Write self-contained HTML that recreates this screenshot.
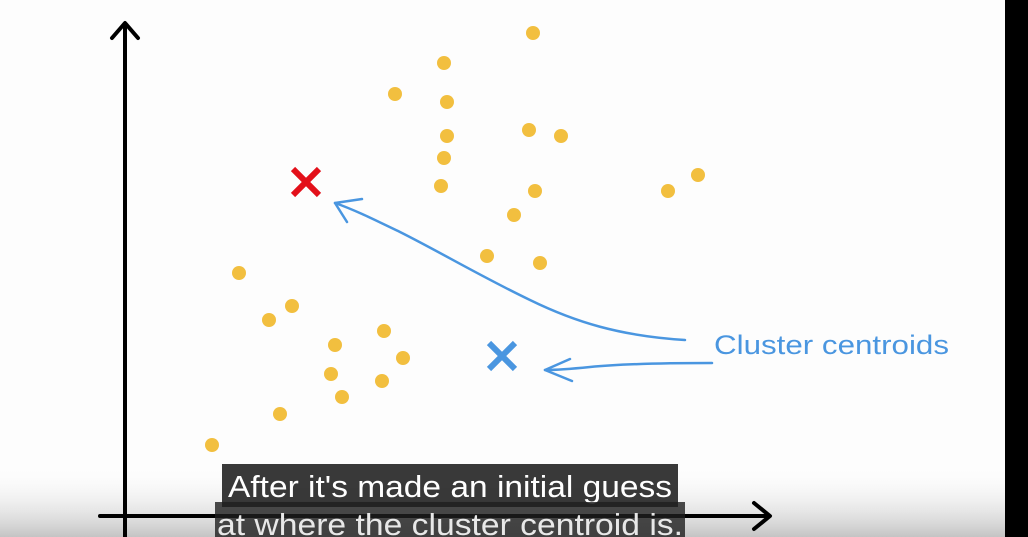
<!DOCTYPE html>
<html><head><meta charset="utf-8"><style>
html,body{margin:0;padding:0;background:#fff;}
svg{display:block;}
</style></head><body>
<svg id="chart" width="1028" height="537" viewBox="0 0 1028 537" xmlns="http://www.w3.org/2000/svg">
<defs>
<linearGradient id="fade" x1="0" y1="0" x2="0" y2="1">
<stop offset="0" stop-color="#ffffff" stop-opacity="0"/>
<stop offset="1" stop-color="#c4c4c4" stop-opacity="1"/>
</linearGradient>
</defs>
<rect width="1028" height="537" fill="#fdfdfd"/>
<rect x="0" y="465" width="1028" height="72" fill="url(#fade)"/>
<g id="axes" stroke="#000" stroke-width="4" fill="none" stroke-linecap="round" stroke-linejoin="round">
<line x1="125" y1="24" x2="125" y2="540"/>
<polyline points="112,38 125,23 138,38"/>
<line x1="100" y1="516" x2="768" y2="516"/>
<polyline points="754,503 770,516 754,529"/>
</g>
<g id="points"></g>
<g id="centroids"></g>
<g stroke="#4a96e0" stroke-width="2.5" fill="none" stroke-linecap="round" stroke-linejoin="round">
<path d="M685,340 C620,336 575,322 530,300 C480,276 440,252 400,232 C375,220 355,210 335,203"/>
<polyline points="362,199 335,203 347,222"/>
<path d="M712,363 C660,363 620,364 590,367 C570,369 555,370 545,370"/>
<polyline points="570,359 545,370 572,381"/>
</g>
<text x="714" y="354" textLength="235" lengthAdjust="spacingAndGlyphs" font-family="Liberation Sans, sans-serif" font-size="27" fill="#4a96e0">Cluster centroids</text>
<rect x="1005" y="0" width="23" height="537" fill="#000"/>
<g>
<rect x="222" y="464" width="456" height="43" fill="#1e1e1e" fill-opacity="0.88"/>
<text x="228" y="497" textLength="444" lengthAdjust="spacingAndGlyphs" font-family="Liberation Sans Narrow, Liberation Sans, sans-serif" font-size="31" fill="#fff">After it's made an initial guess</text>
<rect x="215" y="502" width="470" height="40" fill="#1e1e1e" fill-opacity="0.8"/>
<text x="217" y="535" textLength="466" lengthAdjust="spacingAndGlyphs" font-family="Liberation Sans Narrow, Liberation Sans, sans-serif" font-size="31" fill="#e8e8e8">at where the cluster centroid is.</text>
</g>
</svg>
<script>
const pointX = [40.8,31.9,27.0,32.2,32.2,40.4,43.6,31.9,31.6,41.0,54.3,57.3,38.9,36.2,41.5,11.4,16.7,14.4,25.9,21.0,27.8,20.6,25.7,21.7,15.5,8.7];
const pointY = [48.3,45.3,42.2,41.4,38.0,38.6,38.0,35.8,33.0,32.5,32.5,34.1,30.1,26.0,25.3,24.3,21.0,19.6,18.5,17.1,15.8,14.2,13.5,11.9,10.2,7.1];
const centroidX = [18.1,37.7];
const centroidY = [33.4,16.0];
const centroidColors = ['#e3101a','#4a96e0'];
const centroidNames = ['centroid-red','centroid-blue'];

const ox = 125, oy = 516, k = 10;
function sx(v){ return ox + v*k; }
function sy(v){ return oy - v*k; }
const NS = 'http://www.w3.org/2000/svg';
const pg = document.getElementById('points');
for (let i=0;i<pointX.length;i++){
  const c = document.createElementNS(NS,'circle');
  c.setAttribute('cx', sx(pointX[i]));
  c.setAttribute('cy', sy(pointY[i]));
  c.setAttribute('r', 7);
  c.setAttribute('fill', '#f2bf3f');
  
  
  pg.appendChild(c);
}
const cg = document.getElementById('centroids');
for (let i=0;i<centroidX.length;i++){
  const x = sx(centroidX[i]), y = sy(centroidY[i]), s = 13;
  const p = document.createElementNS(NS,'path');
  p.setAttribute('d', `M${x-s},${y-s} L${x+s},${y+s} M${x+s},${y-s} L${x-s},${y+s}`);
  p.setAttribute('stroke', centroidColors[i]);
  p.setAttribute('stroke-width', 6);
  p.setAttribute('fill', 'none');
  
  
  cg.appendChild(p);
}
</script>
</body></html>
